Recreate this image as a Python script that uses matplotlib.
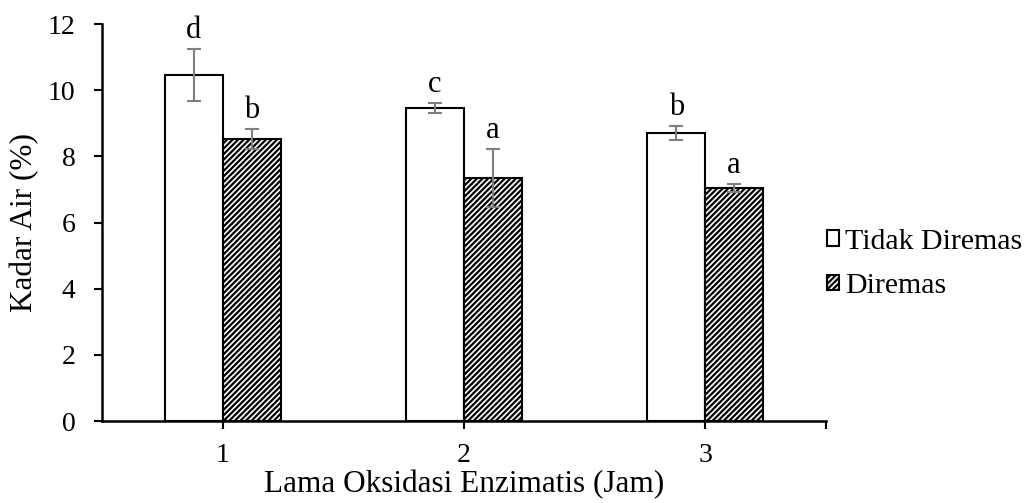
import matplotlib
matplotlib.use("Agg")
import matplotlib.pyplot as plt
import numpy as np

categories = ["1", "2", "3"]
tidak_diremas = [10.46, 9.46, 8.71]
tidak_err = [0.79, 0.15, 0.22]
diremas = [8.52, 7.35, 7.04]
diremas_err = [0.30, 0.87, 0.12]
letters_tidak = ["d", "c", "b"]
letters_diremas = ["b", "a", "a"]

plt.rcParams['font.family'] = ['Liberation Serif', 'DejaVu Serif']
plt.rcParams['hatch.linewidth'] = 1.6

FS_TICK = 20
FS_LAB = 22.5
FS_LEG = 21.5
FS_LET = 22

fig = plt.figure(figsize=(10.31, 5.03), dpi=100)
ax = fig.add_axes([0.099, 0.163, 0.702, 0.789])

x = np.arange(1, len(categories) + 1)
w = 0.24
b1 = ax.bar(x - w/2, tidak_diremas, w, color='white', edgecolor='black', linewidth=1.5,
            label='Tidak Diremas', zorder=2)
b2 = ax.bar(x + w/2, diremas, w, color='white', edgecolor='black', linewidth=1.5,
            hatch='//////', label='Diremas', zorder=2)
ax.errorbar(x - w/2, tidak_diremas, yerr=tidak_err, fmt='none', ecolor='#7f7f7f',
            elinewidth=1.5, capsize=5, capthick=1.5, zorder=3)
ax.errorbar(x + w/2, diremas, yerr=diremas_err, fmt='none', ecolor='#7f7f7f',
            elinewidth=1.5, capsize=5, capthick=1.5, zorder=3)

for xi, v, e, t in zip(x - w/2, tidak_diremas, tidak_err, letters_tidak):
    ax.text(xi, v + e + 0.12, t, ha='center', va='bottom', fontsize=FS_LET)
for xi, v, e, t in zip(x + w/2, diremas, diremas_err, letters_diremas):
    ax.text(xi, v + e + 0.12, t, ha='center', va='bottom', fontsize=FS_LET)

ax.set_xlim(0.5, 3.5)
ax.set_ylim(0, 12)
ax.set_yticks(np.arange(0, 13, 2))
ax.set_xticks(x)
ax.set_xticklabels(categories)
ax.set_xticks([3.5], minor=True)
ax.tick_params(axis='both', labelsize=FS_TICK, direction='out', length=6, width=1.5)
ax.tick_params(axis='x', which='minor', length=6, width=1.5, direction='out')
ax.tick_params(axis='x', pad=10)
ax.tick_params(axis='y', pad=13)
for s in ['top', 'right']:
    ax.spines[s].set_visible(False)
for s in ['left', 'bottom']:
    ax.spines[s].set_linewidth(1.8)

ax.set_ylabel('Kadar Air (%)', fontsize=FS_LAB, labelpad=6)
ax.set_xlabel('Lama Oksidasi Enzimatis (Jam)', fontsize=FS_LAB, labelpad=1)

leg = fig.legend(handles=[b1, b2], loc='center left', bbox_to_anchor=(0.776, 0.475),
                 frameon=False, fontsize=FS_LEG, handlelength=0.42, handleheight=0.42,
                 handletextpad=0.2, labelspacing=0.62)

fig.savefig('out.png', dpi=100)
